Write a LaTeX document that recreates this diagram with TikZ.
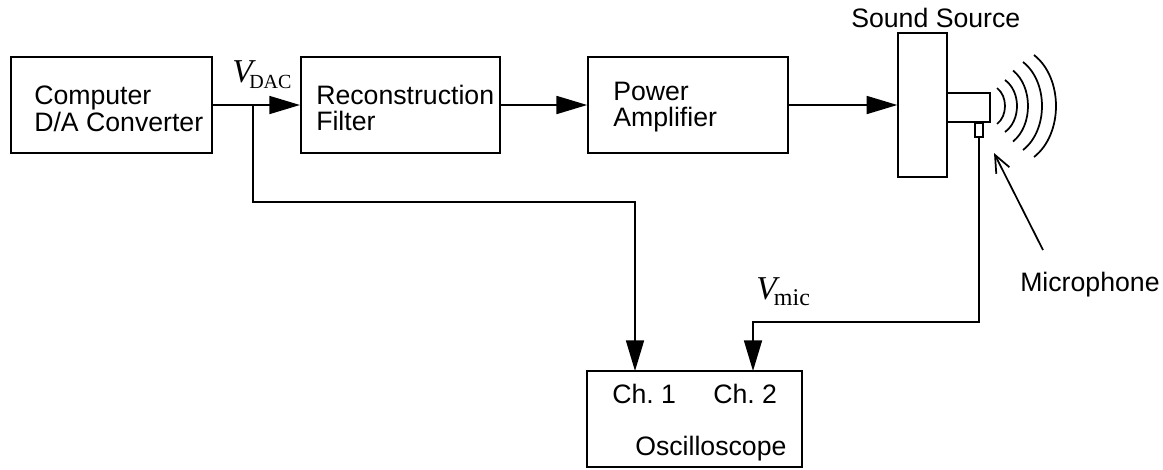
\documentclass[tikz,border=0pt]{standalone}
\usepackage{fontspec}
\usepackage{tikz}
\usetikzlibrary{arrows.meta}
\setmainfont{Liberation Sans}
\newfontfamily\vfont{Liberation Serif}
\tikzset{
  blockbox/.style={draw,line width=1.3pt,inner sep=0pt},
  lbl/.style={inner sep=0pt,align=left,font=\fontsize{20}{20}\selectfont},
  vlbl/.style={inner sep=0pt,anchor=base west,font=\vfont},
  flow/.style={line width=1.3pt,-{Triangle[length=23pt,width=13.5pt]}},
  wire/.style={line width=1.3pt},
  wave/.style={line width=1.3pt}
}
\newcommand{\vname}[4]{{\fontsize{25}{25}\selectfont\itshape V}\kern#4\raisebox{-#2}{\fontsize{#3}{#3}\selectfont #1}}
\begin{document}
\begin{tikzpicture}[x=0.75pt,y=0.75pt,yscale=-1,xscale=1]
  \useasboundingbox (0,0) rectangle (1163,469);
  % blocks
  \node[blockbox,minimum width=150.5pt,minimum height=72pt] (computer) at (111.5,105) {};
  \node[blockbox,minimum width=149.5pt,minimum height=72pt] (filter) at (400.5,105) {};
  \node[blockbox,minimum width=150pt,minimum height=72pt] (amp) at (688,105) {};
  \node[blockbox,minimum width=36.5pt,minimum height=108.5pt] (source) at (922.5,105) {};
  \node[blockbox,minimum width=32.5pt,minimum height=22pt,anchor=west,outer sep=0pt] (mic) at (947,107.5) {};
  \node[blockbox,minimum width=5.5pt,minimum height=10.5pt,anchor=north] (micstub) at (979,122) {};
  \node[blockbox,minimum width=161.5pt,minimum height=72pt] (scope) at (694.5,419) {};
  % labels
  \node[lbl,anchor=west] (computertxt) at (34,109) {Computer\\D/A Converter};
  \node[lbl,anchor=west] (filtertxt) at (316,108) {Reconstruction\\Filter};
  \node[lbl,anchor=west] (amptxt) at (613,107) {Power\\Amplifier};
  \node[lbl,anchor=base west] (sourcetxt) at (851,27) {Sound Source};
  \node[lbl,anchor=base west] (mictxt) at (1020,291) {Microphone};
  \node[lbl,anchor=base west] (chone) at (612,403) {Ch.\ 1};
  \node[lbl,anchor=base west] (chtwo) at (713,403) {Ch.\ 2};
  \node[lbl,anchor=base west] (scopetxt) at (635,455) {Oscilloscope};
  \node[vlbl] (vdac) at (232,82) {\vname{DAC}{4.5pt}{15}{-2.5pt}};
  \node[vlbl] (vmic) at (756,299) {\vname{mic}{5pt}{18}{-2pt}};
  % connectors
  \coordinate (tap) at (253,105);
  \coordinate (tapbend) at (253,202);
  \coordinate (micbend) at (979,322);
  \coordinate (chonein) at (635,371);
  \coordinate (chtwoin) at (753,371);
  \draw[flow] (computer.east) -- (filter.west);
  \draw[flow] (filter.east) -- (amp.west);
  \draw[flow] (amp.east) -- (source.west);
  \draw[flow] (tap) -- (tapbend) -| (chonein);
  \draw[flow] (micstub.south) -- (micbend) -| (chtwoin);
  \coordinate (micpoint) at (994,153);
  \draw[wire,-{Straight Barb[length=13pt,width=11pt]}] (1043,250) -- (micpoint);
  % sound waves
  \foreach \ex/\sg/\hh in {997/8/18,1005/12/26,1013/15/35.5,1023/19/44,1034/22/51}
    \draw[wave] (\ex,106-\hh) .. controls (\ex+1.333*\sg,106-0.55*\hh) and (\ex+1.333*\sg,106+0.55*\hh) .. (\ex,106+\hh);
\end{tikzpicture}
\end{document}
